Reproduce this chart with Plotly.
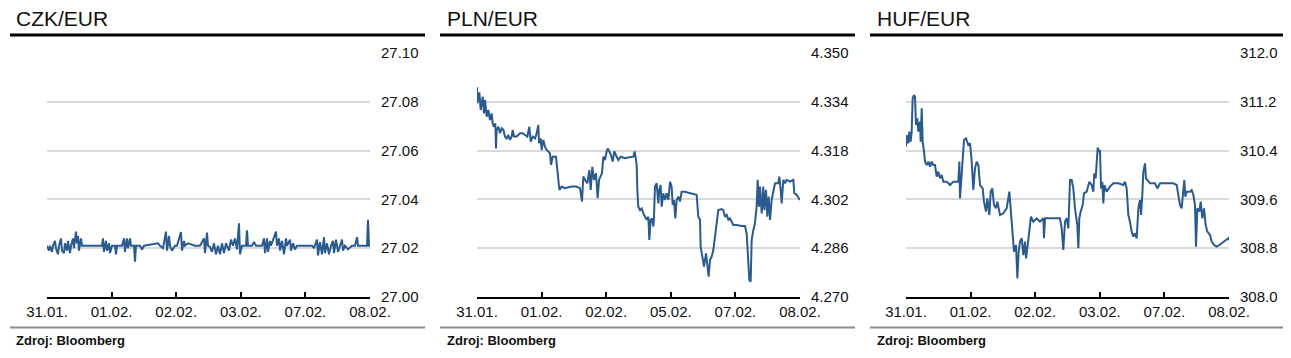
import plotly.graph_objects as go

# ---------------- data ----------------
tick_labels_czk = ["31.01.", "01.02.", "02.02.", "03.02.", "07.02.", "08.02."]
tick_labels_pln = ["31.01.", "01.02.", "02.02.", "05.02.", "07.02.", "08.02."]
tick_labels_huf = ["31.01.", "01.02.", "02.02.", "03.02.", "07.02.", "08.02."]

czk_t = [0, 0.031, 0.046, 0.077, 0.093, 0.124, 0.139, 0.170, 0.186, 0.217, 0.232, 0.263, 0.279,
         0.310, 0.325, 0.356, 0.372, 0.402, 0.418, 0.449, 0.464, 0.480, 0.495, 0.526, 0.542, 0.588,
         0.851, 0.867, 0.882, 0.913, 0.929, 0.960, 0.975, 1.006, 1.053, 1.068, 1.084, 1.161, 1.192,
         1.207, 1.238, 1.254, 1.285, 1.300, 1.347, 1.362, 1.378, 1.440, 1.471, 1.502, 1.594, 1.718,
         1.749, 1.796, 1.842, 1.858, 1.889, 1.904, 1.935, 1.981, 2.012, 2.074, 2.090, 2.121, 2.136,
         2.183, 2.291, 2.368, 2.430, 2.446, 2.477, 2.492, 2.523, 2.554, 2.585, 2.616, 2.647, 2.678,
         2.709, 2.740, 2.771, 2.817, 2.848, 2.879, 2.910, 2.941, 2.972, 2.988, 3.019, 3.080, 3.096,
         3.111, 3.173, 3.204, 3.235, 3.328, 3.359, 3.375, 3.406, 3.421, 3.452, 3.467, 3.545, 3.560,
         3.591, 3.607, 3.638, 3.669, 3.700, 3.715, 3.762, 3.777, 3.808, 3.839, 3.870, 3.916, 4.102,
         4.133, 4.180, 4.195, 4.226, 4.257, 4.288, 4.303, 4.334, 4.365, 4.396, 4.427, 4.443, 4.474,
         4.505, 4.536, 4.567, 4.582, 4.613, 4.659, 4.721, 4.768, 4.799, 4.814, 4.954, 4.969, 4.985, 5.0]
czk_v = [27.021, 27.019, 27.021, 27.0185, 27.021, 27.023, 27.020, 27.0175, 27.021, 27.024, 27.019, 27.018, 27.022,
         27.019, 27.023, 27.018, 27.021, 27.024, 27.020, 27.0268, 27.022, 27.025, 27.019, 27.024, 27.021, 27.021,
         27.021, 27.024, 27.0185, 27.023, 27.019, 27.022, 27.018, 27.021, 27.021, 27.0175, 27.021, 27.021, 27.024,
         27.0185, 27.024, 27.020, 27.024, 27.021, 27.021, 27.0145, 27.021, 27.021, 27.0195, 27.021, 27.0215, 27.022,
         27.021, 27.020, 27.0268, 27.019, 27.025, 27.021, 27.019, 27.021, 27.021, 27.0266, 27.019, 27.023, 27.021,
         27.022, 27.021, 27.021, 27.024, 27.018, 27.0264, 27.021, 27.0205, 27.0185, 27.022, 27.0175, 27.021, 27.0175,
         27.022, 27.018, 27.022, 27.019, 27.0235, 27.021, 27.024, 27.0195, 27.0302, 27.0175, 27.021, 27.021, 27.0273,
         27.021, 27.021, 27.0225, 27.021, 27.021, 27.024, 27.018, 27.024, 27.0185, 27.023, 27.021, 27.0268, 27.021,
         27.024, 27.019, 27.023, 27.0175, 27.024, 27.021, 27.0235, 27.019, 27.022, 27.0195, 27.021, 27.021, 27.021,
         27.020, 27.0235, 27.017, 27.0225, 27.0175, 27.0245, 27.018, 27.022, 27.0175, 27.021, 27.023, 27.018, 27.0235,
         27.0185, 27.021, 27.0235, 27.019, 27.021, 27.0195, 27.021, 27.021, 27.0245, 27.021, 27.021, 27.0316, 27.021, 27.021]

pln_t = [0.0, 0.005, 0.036, 0.057, 0.088, 0.108, 0.124, 0.150, 0.175, 0.201, 0.227, 0.243, 0.263, 0.284,
         0.294, 0.304, 0.330, 0.356, 0.382, 0.408, 0.433, 0.459, 0.485, 0.511, 0.537, 0.552, 0.573, 0.614,
         0.666, 0.707, 0.743, 0.779, 0.810, 0.831, 0.862, 0.898, 0.924, 0.949, 0.960, 0.986, 1.001, 1.027,
         1.053, 1.078, 1.104, 1.130, 1.146, 1.171, 1.223, 1.244, 1.264, 1.275, 1.311, 1.362, 1.414, 1.466,
         1.533, 1.594, 1.625, 1.646, 1.672, 1.708, 1.739, 1.760, 1.785, 1.811, 1.842, 1.868, 1.889, 1.915,
         1.935, 1.956, 1.981, 2.007, 2.023, 2.048, 2.074, 2.100, 2.126, 2.162, 2.188, 2.224, 2.291, 2.358,
         2.420, 2.441, 2.461,
         2.472, 2.482, 2.497, 2.523, 2.549, 2.575, 2.601, 2.626, 2.652, 2.668, 2.688, 2.709, 2.730, 2.740,
         2.755, 2.781, 2.807, 2.822, 2.843, 2.859, 2.884, 2.910, 2.936, 2.962, 2.988, 3.013, 3.029, 3.050,
         3.070, 3.091, 3.117, 3.142, 3.168, 3.220, 3.271, 3.349, 3.400, 3.426, 3.452, 3.462, 3.493, 3.514,
         3.545, 3.566, 3.586, 3.607, 3.633, 3.658, 3.684, 3.710, 3.736, 3.787, 3.813, 3.839, 3.865, 3.891,
         3.916, 3.968, 4.020, 4.097, 4.149, 4.174, 4.200, 4.216, 4.236, 4.252, 4.278, 4.303, 4.329, 4.345,
         4.365, 4.381, 4.407, 4.432, 4.448, 4.474, 4.494, 4.515, 4.536, 4.561, 4.587, 4.613, 4.665, 4.680,
         4.701, 4.716, 4.742, 4.768, 4.794, 4.845, 4.897, 4.912, 4.948, 4.974, 5.0]
pln_v = [4.3388, 4.3335, 4.3371, 4.3313, 4.3357, 4.3302, 4.3346, 4.3291, 4.3313, 4.3280, 4.3302, 4.3269, 4.3258, 4.3269,
         4.3187, 4.3248, 4.3258, 4.3237, 4.3253, 4.3248, 4.3226, 4.3220, 4.3231, 4.3215, 4.3226, 4.3248, 4.3226, 4.3226,
         4.3237, 4.3237, 4.3231, 4.3226, 4.3258, 4.3209, 4.3226, 4.3220, 4.3237, 4.3264, 4.3204, 4.3220, 4.3182, 4.3215,
         4.3193, 4.3182, 4.3177, 4.3171, 4.3133, 4.3160, 4.3160, 4.3116, 4.3084, 4.3051, 4.3062, 4.3057, 4.3060, 4.3062,
         4.3062, 4.3057, 4.3013, 4.3095, 4.3084, 4.3073, 4.3116, 4.3051, 4.3127, 4.3084, 4.3106, 4.3024, 4.3084, 4.3095,
         4.3106, 4.3160, 4.3149, 4.3177, 4.3187, 4.3177, 4.3166, 4.3144, 4.3177, 4.3160, 4.3149, 4.3160, 4.3155, 4.3158,
         4.3160, 4.3177, 4.3150,
         4.3133, 4.3051, 4.2996, 4.2985, 4.2990, 4.2974, 4.2963, 4.2953, 4.2963, 4.2887, 4.2953, 4.2958, 4.2931, 4.2963,
         4.3062, 4.3073, 4.3007, 4.3051, 4.3067, 4.2996, 4.3040, 4.3018, 4.3040, 4.3018, 4.3078, 4.3062, 4.3002, 4.3018,
         4.2958, 4.3018, 4.3029, 4.3013, 4.3045, 4.3045, 4.3042, 4.3038, 4.3035, 4.2963, 4.2953, 4.2865, 4.2827, 4.2800,
         4.2843, 4.2805, 4.2767, 4.2821, 4.2832, 4.2854, 4.2898, 4.2942, 4.2985, 4.2988, 4.2985, 4.2963, 4.2969, 4.2953,
         4.2958, 4.2936, 4.2936, 4.2933, 4.2933, 4.2909, 4.2821, 4.2756, 4.2750, 4.2887, 4.2920, 4.2942, 4.2996, 4.3084,
         4.2996, 4.3062, 4.2974, 4.3062, 4.2985, 4.3051, 4.2963, 4.3029, 4.2953, 4.3018, 4.3045, 4.3073, 4.3073, 4.3095,
         4.3051, 4.3007, 4.3084, 4.3073, 4.3084, 4.3078, 4.3084, 4.3040, 4.3035, 4.3024, 4.3018]

huf_t = [0.0, 0.010, 0.036, 0.052, 0.072, 0.088, 0.103, 0.124, 0.139, 0.155, 0.175, 0.191, 0.217, 0.227,
         0.243, 0.258, 0.279, 0.294, 0.320, 0.346, 0.372, 0.397, 0.423, 0.449, 0.475, 0.500, 0.526, 0.552,
         0.578, 0.630, 0.681, 0.733, 0.810, 0.826, 0.836, 0.862, 0.898, 0.929, 0.965, 0.991, 1.017, 1.042,
         1.068, 1.094, 1.120, 1.146, 1.187, 1.207, 1.238, 1.259, 1.290, 1.311, 1.336, 1.362, 1.393, 1.414,
         1.455, 1.507, 1.558, 1.600, 1.625, 1.651, 1.672, 1.703, 1.724, 1.744, 1.765, 1.791, 1.816, 1.842,
         1.858, 1.884, 1.909, 1.935, 1.971, 2.023, 2.074, 2.126, 2.136, 2.152, 2.281, 2.384,
         2.410, 2.435, 2.461, 2.487, 2.513, 2.539, 2.565, 2.590, 2.616, 2.632, 2.652, 2.668, 2.683, 2.704,
         2.735, 2.755, 2.797, 2.838, 2.874, 2.900, 2.915, 2.936, 2.952, 2.967, 2.988, 3.003, 3.019, 3.039,
         3.055, 3.070, 3.106, 3.158, 3.210, 3.287, 3.364, 3.390, 3.416, 3.442, 3.467, 3.493, 3.519, 3.545,
         3.571, 3.597, 3.622, 3.638, 3.658, 3.674, 3.700, 3.715, 3.736, 3.777, 3.854, 3.891, 3.932, 4.035,
         4.138, 4.190, 4.216, 4.241, 4.267, 4.293, 4.308, 4.324, 4.345, 4.396, 4.422, 4.448, 4.474, 4.489,
         4.510, 4.541, 4.562, 4.587, 4.613, 4.639, 4.665, 4.706, 4.732, 4.768, 4.809, 4.850, 4.886, 4.938,
         4.990, 5.0]
huf_v = [310.465, 310.655, 310.519, 310.71, 310.546, 310.71, 311.257, 311.311, 311.284, 310.82, 310.929, 310.71, 310.874, 310.546,
         311.093, 310.546, 310.383, 310.219, 310.164, 310.219, 310.137, 310.219, 310.164, 310.164, 309.973, 310.055, 309.945, 310.0,
         309.891, 309.891, 309.836, 309.891, 309.891, 310.219, 309.617, 310.0, 310.574, 310.601, 310.492, 310.519, 310.219, 309.754,
         310.109, 310.219, 310.164, 309.836, 309.781, 309.563, 309.399, 309.617, 309.344, 309.727, 309.781, 309.508, 309.454, 309.563,
         309.344, 309.372, 309.454, 309.727, 309.344, 308.962, 308.743, 308.852, 308.306, 308.743, 308.907, 308.962, 308.688, 308.907,
         308.634, 308.852, 309.071, 309.317, 309.235, 309.29, 309.235, 309.29, 308.962, 309.29, 309.29, 309.29,
         309.125, 308.77, 309.235, 309.29, 309.125, 309.918, 309.918, 309.78, 309.454, 309.29, 309.18, 308.798, 309.29, 309.4,
         309.508, 309.7, 309.727, 309.89, 309.836, 309.727, 310.027, 309.945, 310.164, 310.448, 310.383, 310.41, 309.78, 309.89,
         309.535, 309.836, 309.727, 309.81, 309.863, 309.863, 309.836, 309.89, 309.78, 309.344, 309.235, 309.071, 308.989, 309.044,
         308.962, 309.454, 309.59, 309.344, 309.672, 310.055, 310.19, 309.945, 309.918, 309.863, 309.863, 309.78, 309.863, 309.863,
         309.863, 309.836, 309.672, 309.508, 309.454, 309.727, 309.918, 309.645, 309.727, 309.727, 309.754, 309.672, 309.508, 308.825,
         309.454, 309.4, 309.563, 309.29, 309.454, 309.18, 309.071, 309.016, 308.907, 308.852, 308.825, 308.852, 308.88, 308.907,
         308.962, 308.93]

titles = ["CZK/EUR", "PLN/EUR", "HUF/EUR"]
source_text = "Zdroj: Bloomberg"

# ---------------- figure ----------------
W, H = 1291, 358
FONT = "Liberation Sans, Arial, sans-serif"
LINE_COLOR = "#2b5a8e"
TEXT = "#111111"

panels = [
    dict(t=czk_t, v=czk_v, ticks=tick_labels_czk, yr=[27.00, 27.10], dt=0.02, fmt=".2f",
         px0=47, px1=370, box=(10, 425), title_x=14),
    dict(t=pln_t, v=pln_v, ticks=tick_labels_pln, yr=[4.270, 4.350], dt=0.016, fmt=".3f",
         px0=477, px1=800, box=(440, 855), title_x=445),
    dict(t=huf_t, v=huf_v, ticks=tick_labels_huf, yr=[308.0, 312.0], dt=0.8, fmt=".1f",
         px0=906, px1=1229, box=(870, 1283), title_x=875),
]

fig = go.Figure()
shapes = []
annotations = []
y_top_px, y_bot_px = 53, 297
ydom = [(H - y_bot_px) / H, (H - y_top_px) / H]

for i, p in enumerate(panels):
    n = "" if i == 0 else str(i + 1)
    fig.add_trace(go.Scatter(x=p["t"], y=p["v"], mode="lines",
                             line=dict(color=LINE_COLOR, width=2),
                             xaxis="x" + n, yaxis="y" + n, showlegend=False,
                             hoverinfo="skip"))
    fig.layout["xaxis" + n] = dict(
        domain=[p["px0"] / W, p["px1"] / W], range=[0, 5], anchor="y" + n,
        tickvals=list(range(6)), ticktext=p["ticks"], automargin=False,
        showgrid=False, zeroline=False, showline=True, linecolor="black", linewidth=2,
        ticks="inside", ticklen=5, tickwidth=2, tickcolor="black",
        tickfont=dict(family=FONT, size=15, color=TEXT), fixedrange=True)
    lo, hi = p["yr"]
    nt = int(round((hi - lo) / p["dt"]))
    tv = [lo + k * p["dt"] for k in range(nt + 1)]
    fig.layout["yaxis" + n] = dict(
        domain=ydom, range=[lo, hi], anchor="x" + n, side="right", automargin=False,
        tickvals=tv, tickformat=p["fmt"], showgrid=True, gridcolor="#d9d9d9", gridwidth=2,
        zeroline=False, showline=False, ticks="", ticklabelstandoff=10,
        tickfont=dict(family=FONT, size=15, color=TEXT), fixedrange=True)
    b0, b1 = p["box"]
    shapes.append(dict(type="line", xref="paper", yref="paper",
                       x0=b0 / W, x1=b1 / W, y0=(H - 35) / H, y1=(H - 35) / H,
                       line=dict(color="black", width=3)))
    shapes.append(dict(type="line", xref="paper", yref="paper",
                       x0=b0 / W, x1=b1 / W, y0=(H - 327.5) / H, y1=(H - 327.5) / H,
                       line=dict(color="#8c8c8c", width=2)))
    annotations.append(dict(text=titles[i], xref="paper", yref="paper",
                            x=p["title_x"] / W, y=(H - 18) / H, xanchor="left", yanchor="middle",
                            showarrow=False, font=dict(family=FONT, size=21, color=TEXT)))
    annotations.append(dict(text="<b>" + source_text + "</b>", xref="paper", yref="paper",
                            x=(p["title_x"]) / W, y=(H - 340) / H, xanchor="left", yanchor="middle",
                            showarrow=False, font=dict(family=FONT, size=13, color=TEXT)))

fig.update_layout(template="none", width=W, height=H, margin=dict(l=0, r=0, t=0, b=0, pad=0),
                  paper_bgcolor="white", plot_bgcolor="white",
                  shapes=shapes, annotations=annotations, showlegend=False)

fig.write_html("out.html", config={"displayModeBar": False},
               post_script="document.body.style.margin='0';document.body.style.padding='0';"
                           "document.body.style.overflow='hidden';")
